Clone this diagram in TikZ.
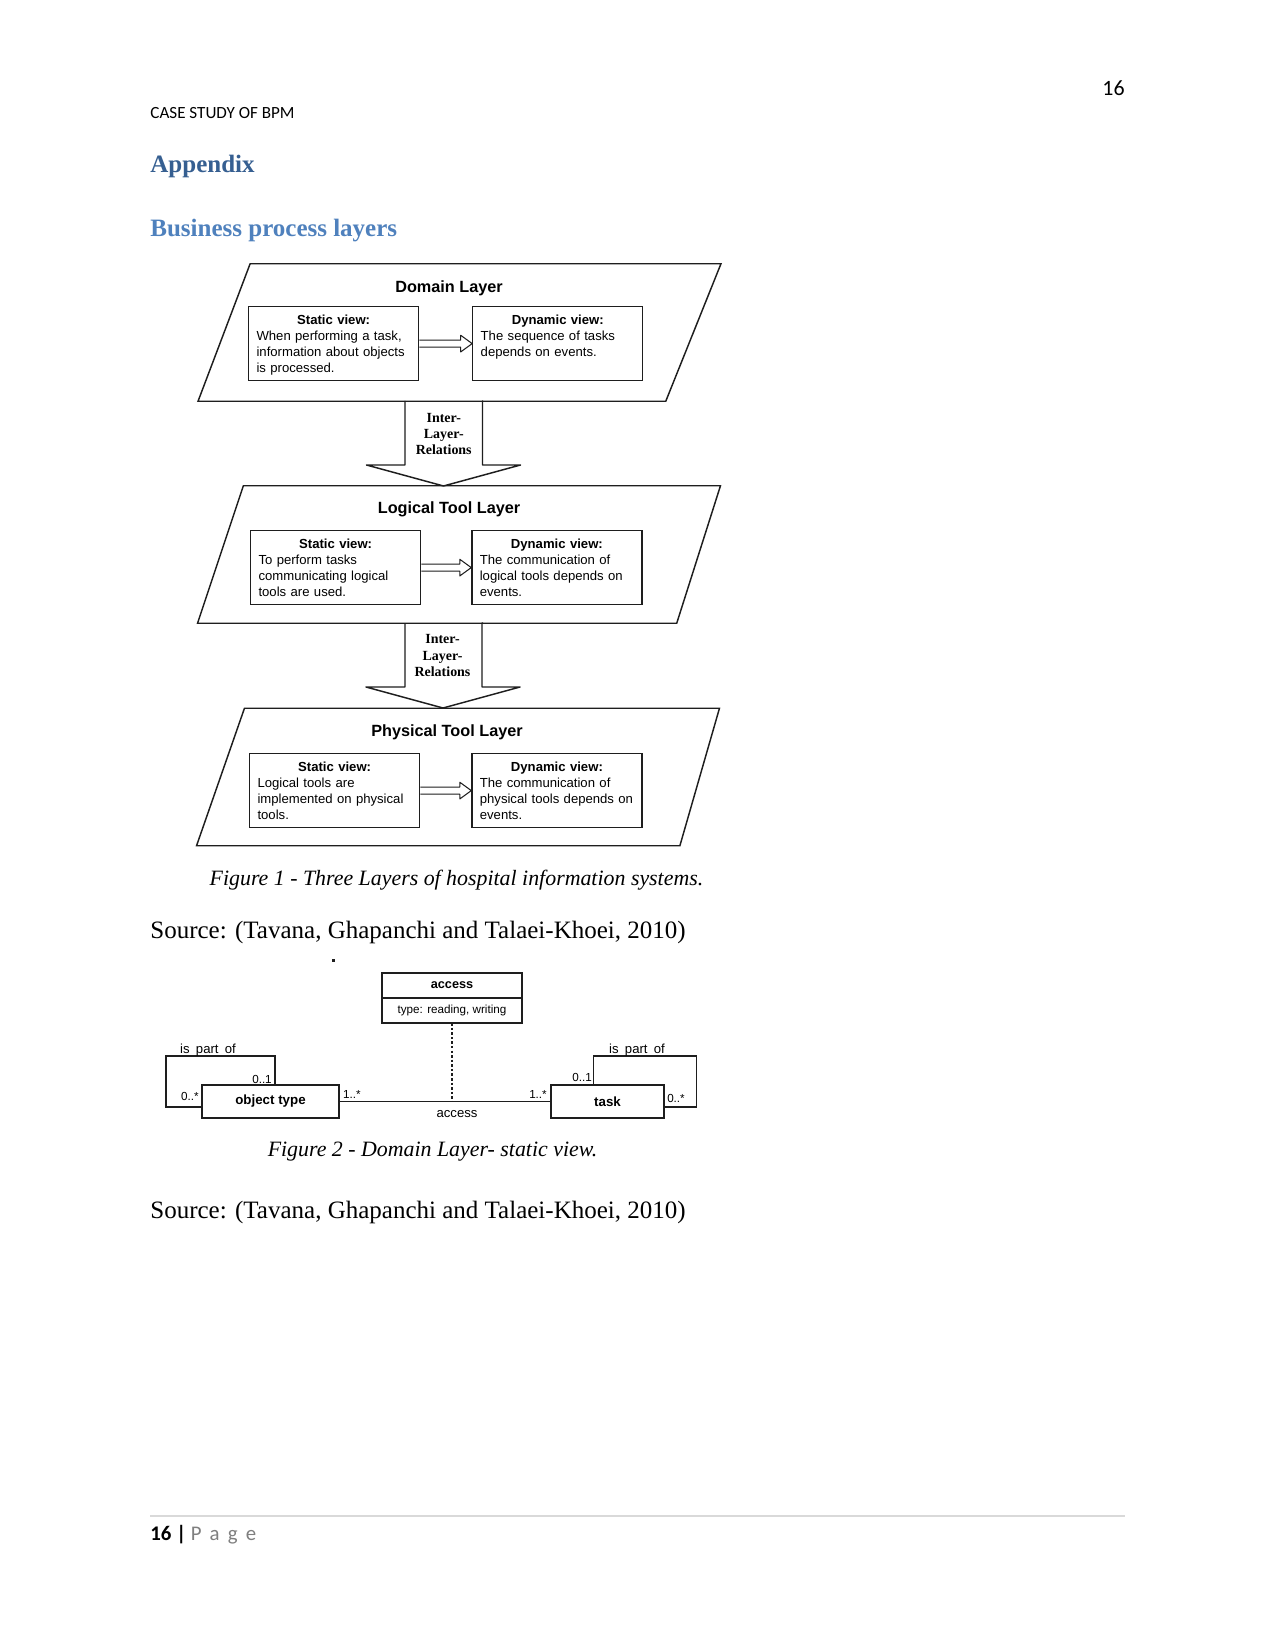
\documentclass[tikz,border=0pt]{standalone}
\usepackage{fontspec}
\setmainfont{Liberation Serif}
\setsansfont{Liberation Sans}
\newfontfamily\carlito{Carlito}
\usepackage{xcolor}
\usepackage{tikz}
\usetikzlibrary{positioning, calc}

\definecolor{headdark}{HTML}{365F91}
\definecolor{headlight}{HTML}{4F81BD}
\definecolor{scanink}{HTML}{1E1E1E}
\definecolor{rulegray}{HTML}{D9D9D9}
\definecolor{pagegray}{HTML}{7F7F7F}

\begin{document}
\begin{tikzpicture}[x=0.48pt, y=-0.48pt,
    layer/.style={minimum width=251pt, minimum height=66pt, inner sep=0pt, outer sep=0pt},
    layerline/.style={draw=scanink, line width=0.7pt},
    layertitle/.style={font=\sffamily\bfseries\fontsize{7.8}{9}\selectfont, inner sep=0pt},
    viewbox/.style={draw=scanink, line width=0.6pt, anchor=north west, align=left,
      text width=74pt, inner xsep=3.8pt, inner ysep=2.5pt, text height=6.2pt, text depth=24.3pt,
      font=\sffamily\fontsize{6.3}{7.7}\selectfont},
    hollow/.style={draw=scanink, line width=0.5pt, line join=round},
    relarrow/.style={draw=scanink, line width=0.7pt, line join=round},
    relnote/.style={font=\bfseries\fontsize{6.7}{7.9}\selectfont, align=center, inner sep=0pt},
    caption/.style={font=\itshape\fontsize{10.5}{12}\selectfont, anchor=base, inner sep=0pt},
    source/.style={font=\fontsize{12}{14}\selectfont, anchor=base west, inner sep=0pt},
    classbox/.style={draw=scanink, line width=0.6pt, inner sep=0pt, outer sep=0pt,
      minimum height=15.8pt, font=\sffamily\bfseries\fontsize{6.4}{7.5}\selectfont},
    attrbox/.style={draw=scanink, line width=0.6pt, inner sep=0pt, outer sep=0pt,
      minimum width=67.2pt, minimum height=12pt, font=\sffamily\fontsize{5.6}{6.5}\selectfont},
    assoc/.style={draw=scanink, line width=0.6pt},
    mult/.style={font=\sffamily\fontsize{5.6}{6.5}\selectfont, inner sep=0pt},
    rolename/.style={font=\sffamily\fontsize{6.3}{7.5}\selectfont, inner sep=0pt}]

  % page
  \fill[white] (0,0) rectangle (1275,1650);
  \useasboundingbox (0,0) rectangle (1275,1650);
  \node[anchor=base east, inner sep=0pt, font=\carlito\fontsize{10.5}{12}\selectfont] (pageno) at (1125,96) {16};
  \node[anchor=base west, inner sep=0pt, font=\carlito\fontsize{8.2}{10}\selectfont] (runhead) at (150,119) {CASE STUDY OF BPM};
  \node[anchor=base west, inner sep=0pt, font=\bfseries\fontsize{12}{14}\selectfont, text=headdark] (appx) at (150,173) {Appendix};
  \node[anchor=base west, inner sep=0pt, font=\bfseries\fontsize{12}{14}\selectfont, text=headlight] (bplayers) at (150,237) {Business process layers};

  % figure 1: the three layers
  \node[layer] (dom) at (459.5,332.5) {};
  \node[layer] (log) at (459,554.5) {};
  \node[layer] (phys) at (458,777) {};
  \draw[layerline] ([xshift=25pt]dom.north west) -- (dom.north east) -- ([xshift=-26.5pt]dom.south east) -- (dom.south west) -- cycle;
  \draw[layerline] ([xshift=22pt]log.north west) -- (log.north east) -- ([xshift=-21pt]log.south east) -- (log.south west) -- cycle;
  \draw[layerline] ([xshift=23pt]phys.north west) -- (phys.north east) -- ([xshift=-19pt]phys.south east) -- (phys.south west) -- cycle;

  \node[layertitle] (domt) at (449,288) {Domain Layer};
  \node[layertitle] (logt) at (449,509) {Logical Tool Layer};
  \node[layertitle] (phyt) at (447,732) {Physical Tool Layer};

  \node[viewbox] (ds) at (248,306) {\makebox[\hsize]{\bfseries Static view:}\\When performing a task,\\information about objects\\is processed.};
  \node[viewbox, right=25.4pt of ds] (dd) {\makebox[\hsize]{\bfseries Dynamic view:}\\The sequence of tasks\\depends on events.};
  \node[viewbox] (ls) at (250,530) {\makebox[\hsize]{\bfseries Static view:}\\To perform tasks\\communicating logical\\tools are used.};
  \node[viewbox, right=24pt of ls] (ld) {\makebox[\hsize]{\bfseries Dynamic view:}\\The communication of\\logical tools depends on\\events.};
  \node[viewbox] (ps) at (249,753) {\makebox[\hsize]{\bfseries Static view:}\\Logical tools are\\implemented on physical\\tools.};
  \node[viewbox, right=24.5pt of ps] (pd) {\makebox[\hsize]{\bfseries Dynamic view:}\\The communication of\\physical tools depends on\\events.};

  % static -> dynamic
  \draw[hollow] ([yshift=1.7pt]ds.east) -- ([xshift=-5.5pt,yshift=1.7pt]dd.west) -- ([xshift=-5.5pt,yshift=4pt]dd.west)
    -- (dd.west) -- ([xshift=-5.5pt,yshift=-4pt]dd.west) -- ([xshift=-5.5pt,yshift=-1.7pt]dd.west) -- ([yshift=-1.7pt]ds.east);
  \draw[hollow] ([yshift=1.7pt]ls.east) -- ([xshift=-5.5pt,yshift=1.7pt]ld.west) -- ([xshift=-5.5pt,yshift=4pt]ld.west)
    -- (ld.west) -- ([xshift=-5.5pt,yshift=-4pt]ld.west) -- ([xshift=-5.5pt,yshift=-1.7pt]ld.west) -- ([yshift=-1.7pt]ls.east);
  \draw[hollow] ([yshift=1.7pt]ps.east) -- ([xshift=-5.5pt,yshift=1.7pt]pd.west) -- ([xshift=-5.5pt,yshift=4pt]pd.west)
    -- (pd.west) -- ([xshift=-5.5pt,yshift=-4pt]pd.west) -- ([xshift=-5.5pt,yshift=-1.7pt]pd.west) -- ([yshift=-1.7pt]ps.east);

  % inter-layer relations
  \draw[relarrow] ($(dom.center)+(-54.5,68.5)$) |- ($(log.center)+(-54.5,-89.5)$) -- ++(-38,0) -- ++(77,21)
    -- ++(77,-21) -- ++(-38,0) |- ($(dom.center)+(23.5,68.5)$);
  \draw[relarrow] ($(log.center)+(-54,68.5)$) |- ($(phys.center)+(-54,-90)$) -- ++(-38,0) -- ++(77,21)
    -- ++(77,-21) -- ++(-38,0) |- ($(log.center)+(24,68.5)$);
  \node[relnote] (rel1) at ($(dom.center)!0.5!(log.center)+(-15.5,-9.5)$) {Inter-\\Layer-\\Relations};
  \node[relnote] (rel2) at ($(log.center)!0.5!(phys.center)+(-16,-10)$) {Inter-\\Layer-\\Relations};

  \node[caption] (cap1) at (456.5,885) {Figure 1 - Three Layers of hospital information systems.};
  \node[source] (src1) at (150,938) {Source: (Tavana, Ghapanchi and Talaei-Khoei, 2010)};
  \fill[scanink] (331.5,959) rectangle (334.5,961.5);

  % figure 2: domain layer, static view
  \node[attrbox, font=\sffamily\bfseries\fontsize{6.1}{7}\selectfont] (acc) at (452,985.5) {access};
  \node[attrbox, below=0pt of acc] (accattr) {type: reading, writing};
  \node[classbox, minimum width=65.8pt] (obj) at (270.5,1101.5) {object type};
  \node[classbox, minimum width=54.2pt] (task) at (607.5,1101.5) {task};

  \draw[assoc] (obj) -- (task);
  \draw[assoc, dash pattern=on 1.2pt off 1pt] (accattr) -- (accattr |- obj.east);
  \node[rolename] (accname) at (457,1114) {access};

  \draw[assoc] ([yshift=-2.6pt]obj.west) -- ++(-36,0) -- ++(0,-51) -| ([xshift=2.2pt]obj.north);
  \draw[assoc] ([xshift=-6.7pt]task.north) -- ++(0,-29) -- ++(103,0) |- ([yshift=-2.6pt]task.east);

  \node[rolename] (part1) at (208,1050) {is\hspace{3pt}part\hspace{3pt}of};
  \node[rolename] (part2) at (637,1050) {is\hspace{3pt}part\hspace{3pt}of};
  \node[mult] (m1) at (190,1096) {0..*};
  \node[mult] (m2) at (262,1079) {0..1};
  \node[mult] (m3) at (352,1094) {1..*};
  \node[mult] (m4) at (538,1094) {1..*};
  \node[mult] (m5) at (582,1077) {0..1};
  \node[mult] (m6) at (676,1098) {0..*};

  \node[caption] (cap2) at (432.5,1156) {Figure 2 - Domain Layer- static view.};
  \node[source] (src2) at (150,1218) {Source: (Tavana, Ghapanchi and Talaei-Khoei, 2010)};

  % footer
  \draw[rulegray, line width=0.6pt] (150,1516) -- (1125,1516);
  \node[anchor=base west, inner sep=0pt, font=\carlito\fontsize{10}{12}\selectfont] (foot) at (150,1540)
    {\textbf{16 |} {\color{pagegray}\addfontfeatures{LetterSpace=40}Page}};
\end{tikzpicture}
\end{document}
